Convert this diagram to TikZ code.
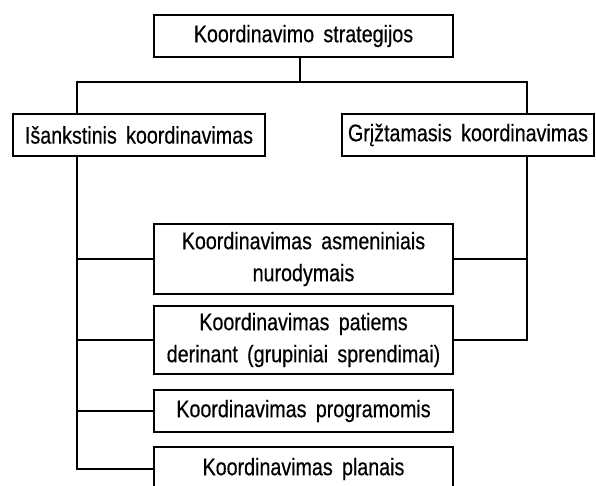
\documentclass[tikz,border=0pt]{standalone}
\usepackage{fontspec}
\newfontfamily\diagfont[FakeStretch=0.82,WordSpace=1.7,FakeBold=0.4]{Liberation Sans}
\begin{document}
\begin{tikzpicture}[x=1pt,y=-1pt,
  box/.style={draw,line width=1.8pt,minimum width=299pt,inner sep=0pt,align=center,
    font=\diagfont\fontsize{24}{32}\selectfont},
  conn/.style={line width=1.1pt}]
\useasboundingbox (0,0) rectangle (596,486);
\clip (0,0) rectangle (596,486);
\node[box,minimum height=42pt] (top) at (303.5,36) {Koordinavimo strategijos};
\node[box,minimum width=252pt,minimum height=42pt] (left) at (139,135) {Išankstinis koordinavimas};
\node[box,minimum width=252pt,minimum height=42pt] (right) at (468,135) {Grįžtamasis koordinavimas};
\node[box,minimum height=70pt] (b3) at (303.5,259) {Koordinavimas asmeniniais\\nurodymais};
\node[box,minimum height=68pt] (b4) at (303.5,340) {Koordinavimas patiems\\derinant (grupiniai sprendimai)};
\node[box,minimum height=42pt] (b5) at (303.5,411) {Koordinavimas programomis};
\node[box,minimum height=44pt] (b6) at (303.5,469) {Koordinavimas planais};
\coordinate (jt) at (300,82);
\coordinate (lx) at (77,0);
\coordinate (rx) at (527,0);
\draw[conn] (top.south -| jt) -- (jt);
\draw[conn] (left.north -| lx) -- (lx |- jt) -- (rx |- jt) -- (right.north -| rx);
\draw[conn] (left.south -| lx) -- (lx |- b6.west) -- (b6.west);
\draw[conn] (lx |- b3.west) -- (b3.west);
\draw[conn] (lx |- b4.west) -- (b4.west);
\draw[conn] (lx |- b5.west) -- (b5.west);
\draw[conn] (right.south -| rx) -- (rx |- b4.east) -- (b4.east);
\draw[conn] (b3.east) -- (rx |- b3.east);
\end{tikzpicture}
\end{document}
